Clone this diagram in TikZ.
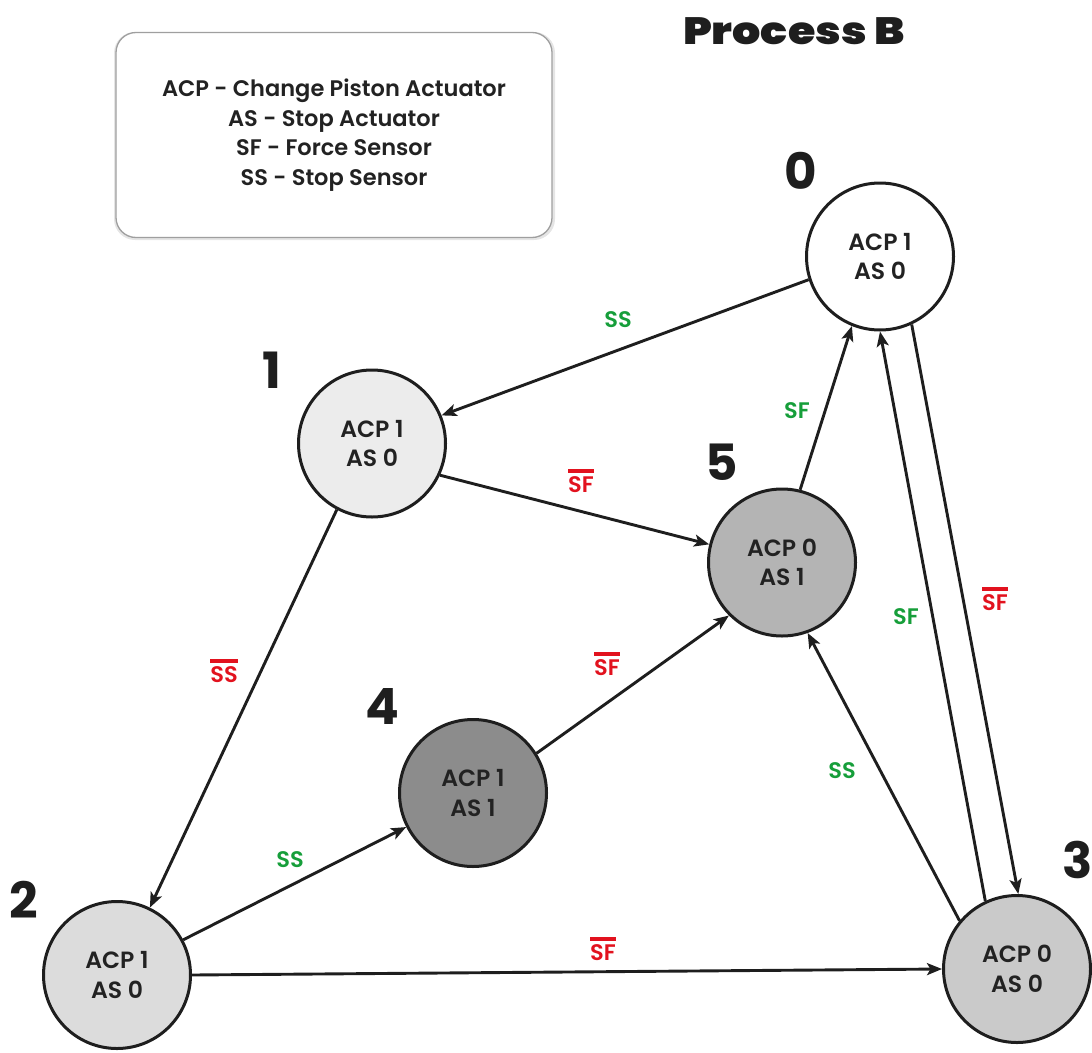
\documentclass[tikz,border=0pt]{standalone}
\usepackage{fontspec}
\usetikzlibrary{arrows.meta}
\setmainfont{Poppins}
% weights used for the labels and the heading
\IfFontExistsTF{Poppins SemiBold}
  {\newfontfamily\labelfont{Poppins SemiBold}}
  {\newfontfamily\labelfontbase{Poppins}\newcommand\labelfont{\labelfontbase\bfseries}}
\IfFontExistsTF{Poppins Black}
  {\newfontfamily\headfont{Poppins Black}}
  {\newfontfamily\headfont{Poppins}[FakeBold=3]}
\newfontfamily\numfont{Poppins}

\definecolor{ink}{RGB}{30,30,30}
\definecolor{textgray}{RGB}{34,34,34}
\definecolor{posgreen}{RGB}{22,158,58}
\definecolor{negred}{RGB}{226,18,30}
\definecolor{fillA}{RGB}{236,236,236}
\definecolor{fillB}{RGB}{180,180,180}
\definecolor{fillC}{RGB}{140,140,140}
\definecolor{fillD}{RGB}{220,220,220}
\definecolor{fillE}{RGB}{202,202,202}

% negated signal: bar over the text
\newcommand\negsig[1]{\setbox0\hbox{#1}\vbox{\hrule height 3.4pt width \wd0 \kern 3.8pt \box0}}

\begin{document}
\begin{tikzpicture}[x=1pt,y=-1pt,
  state/.style={circle, draw=ink, line width=3pt, minimum size=147pt, inner sep=0pt,
    align=center, text=textgray, font=\labelfont\fontsize{23.5}{29.5}\selectfont},
  num/.style={text=ink, font=\numfont\bfseries\fontsize{50}{50}\selectfont},
  trans/.style={-{Stealth[length=15pt,width=12pt,inset=3.5pt]}, line width=2.9pt, draw=ink},
  poslbl/.style={text=posgreen, inner sep=0pt, font=\labelfont\fontsize{22.5}{22.5}\selectfont},
  neglbl/.style={text=negred, inner sep=0pt, font=\labelfont\fontsize{22.5}{22.5}\selectfont},
  legend/.style={rounded corners=20pt, draw=gray!75, line width=1.3pt, fill=white,
    minimum width=436pt, minimum height=205pt, align=center, text=textgray,
    font=\labelfont\fontsize{22.5}{29.5}\selectfont}
]
\useasboundingbox (0,0) rectangle (1092,1052);

% heading
\node[text=ink, font=\headfont\fontsize{38}{38}\selectfont] (title) at (794,31) {\scalebox{1.17}[1]{Process B}};

% legend
\fill[gray!20, rounded corners=21pt] (114,32) rectangle (555,240);
\node[legend] (legend) at (334,135) {ACP - Change Piston Actuator\\AS - Stop Actuator\\SF - Force Sensor\\SS - Stop Sensor};

% states
\node[state, fill=white] (s0) at (880,256.5) {ACP 1\\AS 0};
\node[state, fill=fillA] (s1) at (372,443.5) {ACP 1\\AS 0};
\node[state, fill=fillD] (s2) at (117,975) {ACP 1\\AS 0};
\node[state, fill=fillE] (s3) at (1017,969) {ACP 0\\AS 0};
\node[state, fill=fillC] (s4) at (473,793) {ACP 1\\AS 1};
\node[state, fill=fillB] (s5) at (782,562.5) {ACP 0\\AS 1};

% state numbers
\node[num] (n0) at (801,171) {0};
\node[num] (n1) at (272,370) {1};
\node[num] (n2) at (24,900) {2};
\node[num] (n3) at (1078,860) {3};
\node[num] (n4) at (382,706) {4};
\node[num] (n5) at (722,462) {5};

% transitions
\draw[trans] (s0.198) -- (s1.22);
\draw[trans] (s1.-25) -- (s5.166);
\draw[trans] (s1.242) -- (s2.64);
\draw[trans] (s2.28) -- (s4.207);
\draw[trans] (s4.32) -- (s5.225);
\draw[trans] (s2.0) -- (s3.180);
\draw[trans] (s5.76) -- (s0.248);
\draw[trans] (s3.140) -- (s5.290);
\draw[trans] (s3.115) -- (s0.270);
\draw[trans] (s0.295) -- (s3.89);

% transition conditions
\node[poslbl] (c01) at (618,320) {SS};
\node[neglbl] (c15) at (581,481) {\negsig{SF}};
\node[neglbl] (c12) at (224,671) {\negsig{SS}};
\node[poslbl] (c24) at (290,860) {SS};
\node[neglbl] (c45) at (607,664) {\negsig{SF}};
\node[neglbl] (c23) at (603,949) {\negsig{SF}};
\node[poslbl] (c50) at (797,411) {SF};
\node[poslbl] (c35) at (842,771) {SS};
\node[poslbl] (c30) at (906,617) {SF};
\node[neglbl] (c03) at (995,599) {\negsig{SF}};
\end{tikzpicture}
\end{document}
